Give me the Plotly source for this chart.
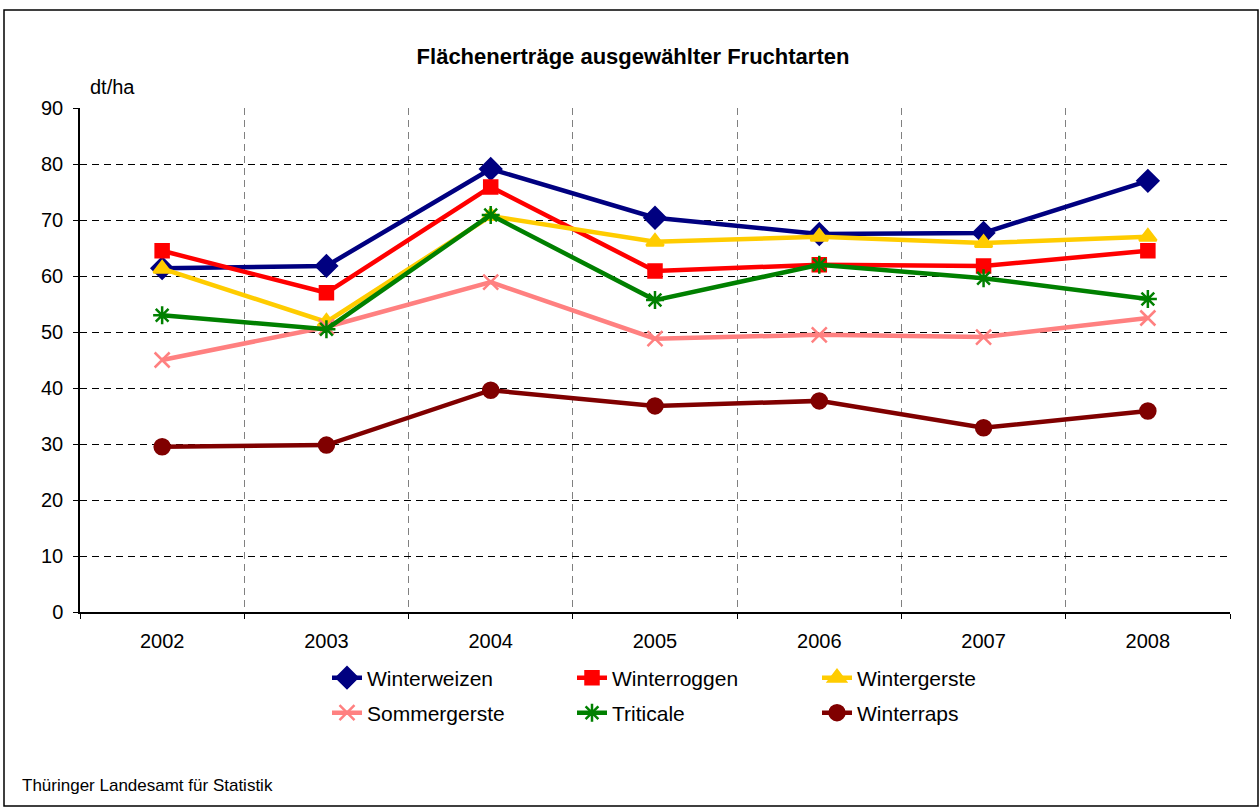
import plotly.graph_objects as go

years = ["2002", "2003", "2004", "2005", "2006", "2007", "2008"]
winterweizen = [61.4, 61.8, 79.1, 70.4, 67.5, 67.7, 77.0]
winterroggen = [64.5, 57.0, 75.9, 60.9, 62.0, 61.8, 64.5]
wintergerste = [61.3, 51.8, 70.7, 66.1, 67.0, 65.9, 67.0]
sommergerste = [45.0, 50.9, 58.9, 48.8, 49.5, 49.1, 52.5]
triticale = [53.0, 50.5, 70.9, 55.7, 62.0, 59.6, 55.9]
winterraps = [29.5, 29.8, 39.6, 36.8, 37.7, 32.9, 35.9]

series = [
    ("Winterweizen", winterweizen, "#000080", "diamond", 16, "legend"),
    ("Winterroggen", winterroggen, "#FF0000", "square", 13, "legend"),
    ("Wintergerste", wintergerste, "#FFCC00", "triangle-up", 15, "legend"),
    ("Sommergerste", sommergerste, "#FF8080", "x-thin-open", 15, "legend2"),
    ("Triticale", triticale, "#008000", "asterisk-open", 15, "legend2"),
    ("Winterraps", winterraps, "#800000", "circle", 15, "legend2"),
]

fig = go.Figure()
for name, vals, color, sym, size, lg in series:
    fig.add_trace(go.Scatter(
        x=years, y=vals, name=name, mode="lines+markers",
        line=dict(color=color, width=4.5),
        marker=dict(symbol=sym, size=size, color=color,
                    line=dict(color=color, width=2.5)),
        legend=lg,
    ))

font = "Liberation Sans, Arial, sans-serif"
W, H = 1260, 809
l, r, t, b = 80, 30, 108, 197
pw = W - l - r
ph = H - t - b

leg_x = (331 - l - 4) / pw

fig.update_layout(
    width=W, height=H,
    margin=dict(l=l, r=r, t=t, b=b),
    paper_bgcolor="white", plot_bgcolor="white",
    font=dict(family=font, size=20, color="black"),
    hovermode=False,
    title=dict(text="<b>Flächenerträge ausgewählter Fruchtarten</b>",
               x=633 / W, xanchor="center", y=1 - 56 / H, yanchor="middle",
               font=dict(size=22)),
    xaxis=dict(type="category", tickson="boundaries", showgrid=True,
               range=[-0.5, 6.5],
               gridcolor="#808080", griddash="7px,5px", gridwidth=1,
               showline=True, linecolor="black", linewidth=1.5,
               ticks="outside", ticklen=5, tickcolor="black",
               ticklabelstandoff=10,
               tickfont=dict(size=20), zeroline=False),
    yaxis=dict(range=[0, 90], dtick=10, showgrid=True, gridcolor="black",
               griddash="7px,5px", gridwidth=1,
               showline=True, linecolor="black", linewidth=1.5,
               ticks="outside", ticklen=5, tickcolor="black",
               ticklabelstandoff=6,
               tickfont=dict(size=20), zeroline=False),
    legend=dict(orientation="h", x=leg_x, xanchor="left",
                y=-(678 - 612) / ph, yanchor="middle", entrywidth=200,
                font=dict(size=21), bgcolor="rgba(0,0,0,0)"),
    legend2=dict(orientation="h", x=leg_x, xanchor="left",
                 y=-(713 - 612) / ph, yanchor="middle", entrywidth=200,
                 font=dict(size=21), bgcolor="rgba(0,0,0,0)"),
    showlegend=True,
)

fig.add_annotation(text="dt/ha", xref="paper", yref="paper",
                   x=(88 - l) / pw, xanchor="left",
                   y=(612 - 87) / ph, yanchor="middle", showarrow=False,
                   font=dict(size=20))
fig.add_annotation(text="Thüringer Landesamt für Statistik", xref="paper", yref="paper",
                   x=(20 - l) / pw, xanchor="left",
                   y=-(785 - 612) / ph, yanchor="middle", showarrow=False,
                   font=dict(size=17))
fig.add_shape(type="rect", xref="paper", yref="paper",
              x0=(4 - l) / pw, x1=(1258 - l) / pw,
              y0=-(806 - 612) / ph, y1=(612 - 10) / ph,
              line=dict(color="black", width=1.5), layer="below")

fig.write_html("out.html", config={"displayModeBar": False},
               post_script="document.body.style.margin='0';document.body.style.overflow='hidden';")
